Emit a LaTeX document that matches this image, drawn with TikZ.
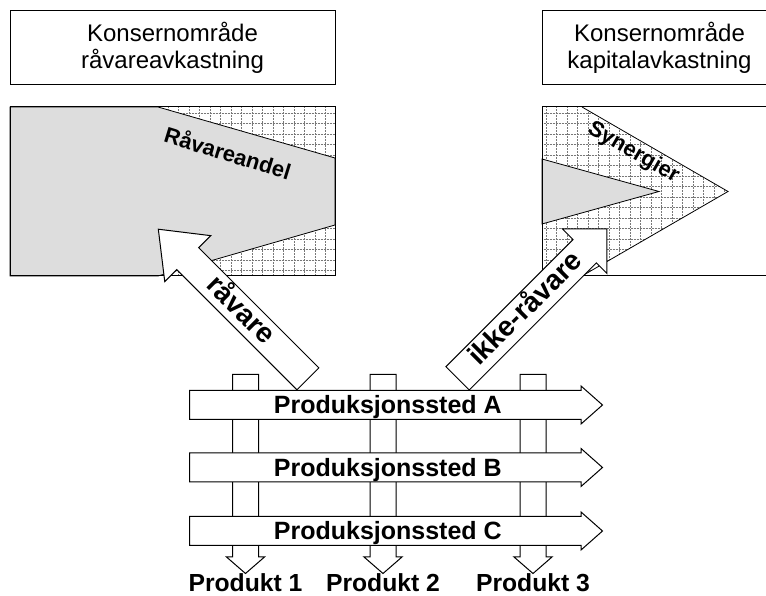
\documentclass[tikz,border=0pt]{standalone}
\usepackage{fontspec}
\setmainfont{Liberation Sans}
\usepackage{tikz}
\usetikzlibrary{shapes.arrows, positioning}
\definecolor{shareGray}{RGB}{221,221,221}
\definecolor{gridGray}{RGB}{120,120,120}

\begin{document}
\begin{tikzpicture}[
  x=1pt, y=1pt,
  area/.style={rectangle, draw=black, line width=1pt, inner sep=0pt, align=center, font=\fontsize{24}{27}\selectfont},
  share/.style={fill=shareGray, draw=black, line width=0.8pt},
  gridline/.style={gridGray, line width=0.5pt, densely dotted},
  site/.style={single arrow, draw=black, fill=white, line width=1pt, inner sep=0pt, minimum height=413pt, text height=22.8pt, text depth=5.2pt, single arrow head extend=4.5pt, single arrow tip angle=83, anchor=tail, font=\fontsize{25}{28}\selectfont\bfseries},
  outlet/.style={single arrow, draw=black, fill=white, line width=1pt, inner sep=0pt, minimum height=199pt, text height=12.5pt, text depth=12.5pt, single arrow head extend=6pt, single arrow tip angle=98, rotate=-90, anchor=tail},
  flow/.style={single arrow, draw=black, fill=white, line width=1pt, inner sep=0pt, anchor=tail, font=\fontsize{28}{32}\selectfont\bfseries},
  tag/.style={inner sep=0pt, font=\fontsize{22}{26}\selectfont\bfseries},
  product/.style={inner sep=0pt, anchor=base, font=\fontsize{24.7}{28}\selectfont\bfseries}
]
\useasboundingbox (0,0) rectangle (766,596);
\clip (0,0) rectangle (766,596);

% Left share box
\begin{scope}
  \clip (10,320) rectangle (335,489);
  \draw[gridline] (10,320) grid[step=10.5pt] (335,489);
\end{scope}
\filldraw[share] (10,489) -- (158,489) -- (335,438) -- (335,371) -- (158,320) -- (10,320) -- cycle;
\node[area, minimum width=325pt, minimum height=169pt] (share_raw) at (172.5,404.5) {};

% Right share box
\begin{scope}
  \clip (542,489) -- (582,489) -- (728,404.5) -- (582,320) -- (542,320) -- cycle;
  \draw[gridline] (542,320) grid[step=10.5pt] (728,489);
\end{scope}
\draw[line width=0.8pt] (582,489) -- (728,404.5) -- (582,320);
\filldraw[share] (542,437) -- (659,404.5) -- (542,372) -- cycle;
\node[area, minimum width=235pt, minimum height=169pt] (share_cap) at (659.5,404.5) {};

% Group areas
\node[area, minimum width=325pt, minimum height=74pt, above=21pt of share_raw] (area_raw) {Konsernområde\\råvareavkastning};
\node[area, minimum width=235pt, minimum height=74pt, above=21pt of share_cap] (area_cap) {Konsernområde\\kapitalavkastning};

% Products
\foreach \x/\n in {245.5/1, 383/2, 533/3} {
  \node[outlet] (out\n) at (\x,222) {};
  \node[product] (prod\n) at (\x,4) {Produkt \n};
}

% Production sites
\foreach \s/\y in {A/191, B/128.5, C/65} {
  \node[site] (site_\s) at (189,\y) {Produksjonssted \s};
}

% Flows
\node[flow, rotate=-45, shape border rotate=180, minimum height=211.6pt, text height=22.3pt, text depth=7.7pt, single arrow head extend=17pt, single arrow tip angle=76] (flow_raw) at (308.3,216.8) {råvare};
\node[flow, rotate=45, minimum height=211.3pt, text height=23.3pt, text depth=8.7pt, single arrow head extend=15pt, single arrow tip angle=90] (flow_other) at (457.2,217.3) {ikke-råvare};

\node[tag, rotate=-17] (tag_raw) at (228,443.5) {Råvareandel};
\node[tag, rotate=-30] (tag_cap) at (633.3,443.5) {Synergier};

\end{tikzpicture}
\end{document}
